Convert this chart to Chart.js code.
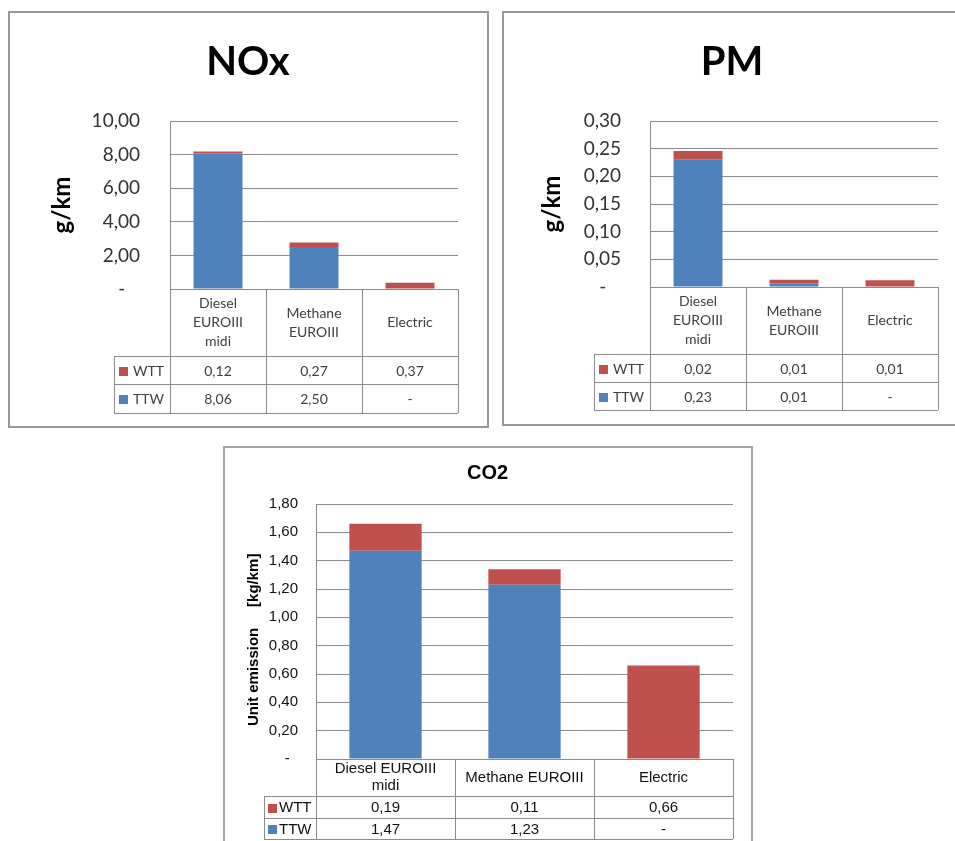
<!DOCTYPE html>
<html>
<head>
<meta charset="utf-8">
<title>NOx / PM / CO2</title>
<script src="https://cdn.jsdelivr.net/npm/chart.js@4.4.0/dist/chart.umd.min.js"></script>
<style>
  html, body { margin: 0; padding: 0; background: #fff; overflow: hidden; }
  .box { position: absolute; }
  .frame { position: absolute; box-sizing: border-box; border: 2px solid #999; }
</style>
</head>
<body>
<div class="frame" style="left:8px;top:11px;width:481px;height:417px"></div>
<div class="box" style="left:8px;top:11px;width:480px;height:416px"><canvas id="noxChart"></canvas></div>

<div class="frame" style="left:502px;top:11px;width:470px;height:415px"></div>
<div class="box" style="left:502px;top:11px;width:460px;height:414px"><canvas id="pmChart"></canvas></div>

<div class="frame" style="left:223px;top:446px;width:530px;height:420px;border-color:#a6a6a6"></div>
<div class="box" style="left:223px;top:446px;width:529px;height:400px"><canvas id="co2Chart"></canvas></div>

<script>
// === DATA ===
const noxCategories = [['Diesel', 'EUROIII', 'midi'], ['Methane', 'EUROIII'], ['Electric']];
const noxWTT = [0.12, 0.27, 0.37];
const noxTTW = [8.06, 2.50, 0];
const noxTicks = [0, 2, 4, 6, 8, 10];

const pmCategories = [['Diesel', 'EUROIII', 'midi'], ['Methane', 'EUROIII'], ['Electric']];
const pmWTT = [0.016, 0.006, 0.012];
const pmTTW = [0.23, 0.007, 0];
const pmTicks = [0, 0.05, 0.10, 0.15, 0.20, 0.25, 0.30];

const co2Categories = [['Diesel EUROIII', 'midi'], ['Methane EUROIII'], ['Electric']];
const co2WTT = [0.19, 0.11, 0.66];
const co2TTW = [1.47, 1.23, 0];
const co2Ticks = [0, 0.2, 0.4, 0.6, 0.8, 1.0, 1.2, 1.4, 1.6, 1.8];

const BLUE = '#4F81BD';
const RED = '#C0504D';

// số kiểu Excel: dấu phẩy thập phân, 0 thành "-"
function fmt(v) {
  if (Math.abs(v) < 1e-9) return '-';
  return v.toFixed(2).replace('.', ',');
}

// === BẢNG DỮ LIỆU DƯỚI TRỤC ===
const dataTablePlugin = {
  id: 'dataTable',
  afterDraw(chart, args, opts) {
    const { ctx, chartArea: a } = chart;
    const n = chart.data.labels.length;
    const colW = (a.right - a.left) / n;
    const y0 = a.bottom;
    const y1 = y0 + opts.rows[0];
    const y2 = y1 + opts.rows[1];
    const y3 = y2 + opts.rows[2];
    const legL = opts.legendLeft;
    const px = v => Math.round(v) + 0.5;

    ctx.save();
    ctx.strokeStyle = opts.lineColor;
    ctx.lineWidth = 1;
    ctx.beginPath();
    [[a.left, y0], [legL, y1], [legL, y2], [legL, y3]].forEach(([x, y]) => {
      ctx.moveTo(x, px(y));
      ctx.lineTo(a.right, px(y));
    });
    for (let i = 0; i <= n; i++) {
      const x = px(a.left + i * colW);
      ctx.moveTo(x, y0);
      ctx.lineTo(x, y3);
    }
    ctx.moveTo(px(legL), y1);
    ctx.lineTo(px(legL), y3);
    ctx.stroke();

    ctx.font = opts.font;
    ctx.fillStyle = opts.color;
    ctx.textAlign = 'center';
    ctx.textBaseline = 'middle';
    chart.data.labels.forEach((lab, i) => {
      const lines = Array.isArray(lab) ? lab : [lab];
      const cx = a.left + (i + 0.5) * colW;
      const cy = (y0 + y1) / 2;
      lines.forEach((t, k) => ctx.fillText(t, cx, cy + (k - (lines.length - 1) / 2) * opts.lineHeight));
    });

    // WTT trước, TTW sau (ngược thứ tự stack)
    const rows = chart.data.datasets.slice().reverse();
    rows.forEach((ds, r) => {
      const top = r === 0 ? y1 : y2;
      const bot = r === 0 ? y2 : y3;
      const cy = (top + bot) / 2 + 1;
      ctx.fillStyle = ds.backgroundColor;
      ctx.fillRect(legL + opts.keyX, Math.round(cy - opts.keySize / 2), opts.keySize, opts.keySize);
      ctx.fillStyle = opts.color;
      ctx.textAlign = 'left';
      ctx.fillText(ds.label, legL + opts.textX, cy);
      ctx.textAlign = 'center';
      ds.data.forEach((v, i) => ctx.fillText(fmt(v), a.left + (i + 0.5) * colW, cy));
    });
    ctx.restore();
  }
};

function buildChart(id, categories, wtt, ttw, ticks, c) {
  const el = document.getElementById(id);
  if (!el) return;
  return new Chart(el.getContext('2d'), {
    type: 'bar',
    plugins: [dataTablePlugin],
    data: {
      labels: categories,
      datasets: [
        { label: 'TTW', data: ttw, backgroundColor: BLUE, borderWidth: 0,
          categoryPercentage: 1, barPercentage: c.barPct },
        { label: 'WTT', data: wtt, backgroundColor: RED, borderWidth: 0,
          categoryPercentage: 1, barPercentage: c.barPct }
      ]
    },
    options: {
      responsive: true,
      maintainAspectRatio: false,
      animation: false,
      layout: { padding: { left: 0, top: 0, right: 0, bottom: c.padBottom } },
      plugins: {
        legend: { display: false },
        tooltip: { enabled: false },
        title: {
          display: true,
          text: c.title,
          color: '#000',
          font: { family: c.family, size: c.titleSize, weight: 'bold' },
          padding: { top: c.titleTop, bottom: c.titleBottom }
        },
        dataTable: {
          rows: c.rows,
          legendLeft: c.legendLeft,
          lineColor: c.lineColor,
          color: c.textColor,
          font: `${c.tableSize}px ${c.family}`,
          lineHeight: c.catLine,
          keyX: c.keyX,
          keySize: c.keySize,
          textX: c.textX
        }
      },
      scales: {
        x: { stacked: true, display: false },
        y: {
          stacked: true,
          min: ticks[0],
          max: ticks[ticks.length - 1],
          afterBuildTicks: s => { s.ticks = ticks.map(v => ({ value: v })); },
          afterFit: s => { s.width = c.axisWidth; },
          grid: { color: c.lineColor, drawTicks: false },
          border: { color: c.lineColor },
          ticks: {
            padding: c.tickPad,
            color: c.tickColor,
            font: { family: c.family, size: c.tickSize },
            callback: v => (Math.abs(v) < 1e-9 ? c.zeroLabel : fmt(v))
          },
          title: {
            display: true,
            text: c.yTitle,
            color: '#000',
            font: { family: c.family, size: c.yTitleSize, weight: 'bold' },
            padding: { top: c.yTitleTop, bottom: 0 }
          }
        },
        // trục rỗng bên phải, chỉ để giữ khoảng trống (tiêu đề vẫn căn giữa cả khung)
        yPad: {
          type: 'linear',
          position: 'right',
          grid: { display: false },
          border: { display: false },
          ticks: { display: false },
          afterFit: s => { s.width = c.padRight; }
        }
      }
    }
  });
}

// === NOx ===
buildChart('noxChart', noxCategories, noxWTT, noxTTW, noxTicks, {
  title: 'NOx', yTitle: 'g/km', family: 'Lato',
  titleSize: 40, titleTop: 27, titleBottom: 35,
  yTitleSize: 24, yTitleTop: 40,
  tickSize: 19, tickPad: 30, axisWidth: 162, zeroLabel: '-   ',
  padRight: 30, padBottom: 138, barPct: 0.51,
  rows: [67, 28, 29], legendLeft: 106, tableSize: 14, catLine: 19,
  keyX: 5, keySize: 9, textX: 19,
  lineColor: '#8c8c8c', textColor: '#404040', tickColor: '#333'
});

// === PM ===
buildChart('pmChart', pmCategories, pmWTT, pmTTW, pmTicks, {
  title: 'PM', yTitle: 'g/km', family: 'Lato',
  titleSize: 40, titleTop: 27, titleBottom: 35,
  yTitleSize: 24, yTitleTop: 36,
  tickSize: 19, tickPad: 29, axisWidth: 148, zeroLabel: '-   ',
  padRight: 24, padBottom: 138, barPct: 0.51,
  rows: [67, 28, 28], legendLeft: 92, tableSize: 14, catLine: 19,
  keyX: 5, keySize: 9, textX: 19,
  lineColor: '#8c8c8c', textColor: '#404040', tickColor: '#333'
});

// === CO2 ===
buildChart('co2Chart', co2Categories, co2WTT, co2TTW, co2Ticks, {
  title: 'CO2', yTitle: 'Unit emission     [kg/km]    ', family: "'Liberation Sans', Arial, sans-serif",
  titleSize: 20, titleTop: 15, titleBottom: 19,
  yTitleSize: 15, yTitleTop: 22,
  tickSize: 15, tickPad: 18, axisWidth: 93, zeroLabel: '-  ',
  padRight: 19, padBottom: 87, barPct: 0.52,
  rows: [37, 22, 21], legendLeft: 41, tableSize: 15, catLine: 17,
  keyX: 4, keySize: 9, textX: 15,
  lineColor: '#8c8c8c', textColor: '#111', tickColor: '#111'
});
</script>
</body>
</html>
